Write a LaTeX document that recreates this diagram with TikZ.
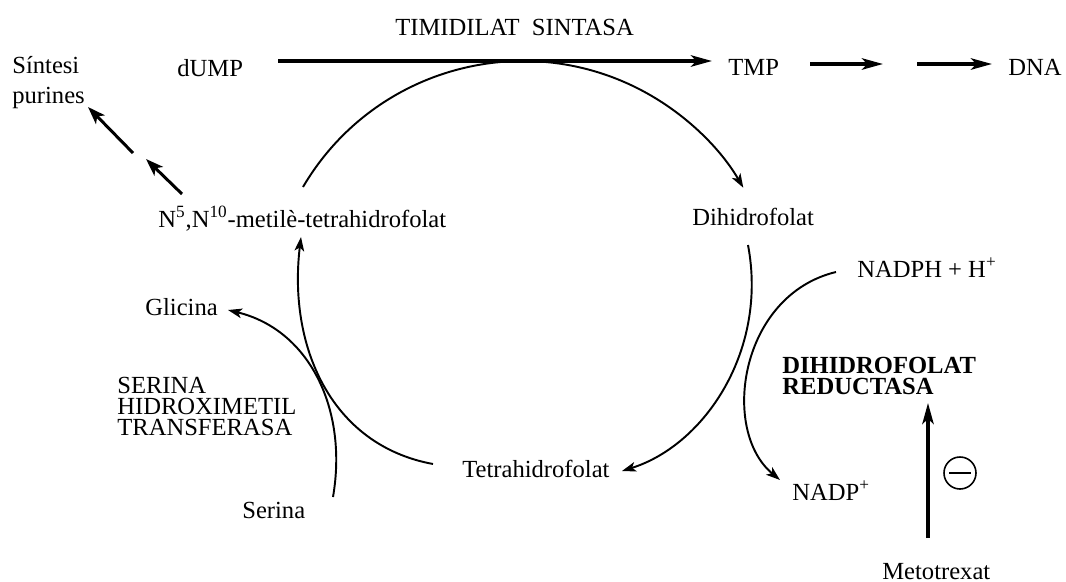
\documentclass[tikz,border=0pt]{standalone}
\usepackage{fontspec}
\setmainfont{Liberation Serif}
\usetikzlibrary{arrows.meta}

\tikzset{
  lbl/.style={anchor=base west,inner sep=0pt,font=\fontsize{14}{16}\selectfont},
  lblblock/.style={anchor=north west,inner sep=0pt,align=left},
  cyc/.style={line width=1.1pt,-{Stealth[length=8pt,width=5.5pt,inset=2pt]}},
  fat/.style={line width=2pt,-{Stealth[length=12pt,width=6.5pt,inset=3pt]}},
  side/.style={line width=1.7pt,-{Stealth[length=10pt,width=7pt,inset=2.5pt]}},
}

\begin{document}
\begin{tikzpicture}[x=0.02cm,y=-0.02cm]
\useasboundingbox (0,0) rectangle (1066,582);
% metabolites and enzymes
\node[lbl] (ts) at (395,35) {TIMIDILAT\ \ SINTASA};
\node[lbl] (dump) at (177,76) {dUMP};
\node[lbl] (tmp) at (728,75) {TMP};
\node[lbl] (dna) at (1008,75) {DNA};
\node[lblblock,font=\fontsize{14}{17}\selectfont] (purines) at (12,56) {Síntesi\\purines};
\node[lbl] (metil) at (158,227) {N\textsuperscript{5},N\textsuperscript{10}-metilè-tetrahidrofolat};
\node[lbl] (dhf) at (692,225) {Dihidrofolat};
\node[lbl] (thf) at (462,477) {Tetrahidrofolat};
\node[lbl] (nadph) at (857,277) {NADPH + H\textsuperscript{+}};
\node[lbl] (nadp) at (792,500) {NADP\textsuperscript{+}};
\node[lblblock,font=\fontsize{14}{12}\selectfont\bfseries] (dhfr) at (782,357) {DIHIDROFOLAT\\REDUCTASA};
\node[lbl] (mtx) at (882,579) {Metotrexat};
\node[lbl] (gly) at (145,315) {Glicina};
\node[lbl] (ser) at (242,518) {Serina};
\node[lblblock,font=\fontsize{14}{12}\selectfont] (shmt) at (117,377) {SERINA\\HIDROXIMETIL\\TRANSFERASA};
% connector ends
\coordinate (ts-in) at (278,61);
\coordinate (ts-out) at (712,61);
\coordinate (dna-a) at (810,64);
\coordinate (dna-b) at (883,64);
\coordinate (dna-c) at (917,64);
\coordinate (dna-d) at (992,64);
\coordinate (pur-a) at (182,194);
\coordinate (pur-b) at (146,159);
\coordinate (pur-c) at (133,153);
\coordinate (pur-d) at (88,107);
\coordinate (metil-out) at (303,187);
\coordinate (metil-in) at (301,237);
\coordinate (dhf-out) at (748,245);
\coordinate (thf-in) at (622,471);
\coordinate (thf-out) at (433,464);
\coordinate (nadph-out) at (836,272);
\coordinate (nadp-in) at (780,480);
\coordinate (ser-out) at (333,497);
\coordinate (gly-in) at (228,310);
\coordinate (mtx-out) at (928,538);
\coordinate (dhfr-in) at (928,403);
% thymidylate synthase step
\draw[fat] (ts-in) -- (ts-out);
\draw[fat] (dna-a) -- (dna-b);
\draw[fat] (dna-c) -- (dna-d);
\draw[side] (pur-a) -- (pur-b);
\draw[side] (pur-c) -- (pur-d);
% folate cycle
\draw[cyc] (metil-out) arc[start angle=-149.6,end angle=-30.2,radius=255];
\draw[cyc] (dhf-out) .. controls (768,350) and (705,445) .. (thf-in);
\draw[cyc] (thf-out) .. controls (330,445) and (288,345) .. (metil-in);
\draw[cyc] (nadph-out) .. controls (740,295) and (720,430) .. (nadp-in);
\draw[cyc] (ser-out) .. controls (348,410) and (310,330) .. (gly-in);
% inhibition by methotrexate
\draw[fat] (mtx-out) -- (dhfr-in);
\draw[line width=0.9pt] (960,473) circle[radius=16];
\draw[line width=1.1pt] (949,473) -- (971,473);
\end{tikzpicture}
\end{document}
